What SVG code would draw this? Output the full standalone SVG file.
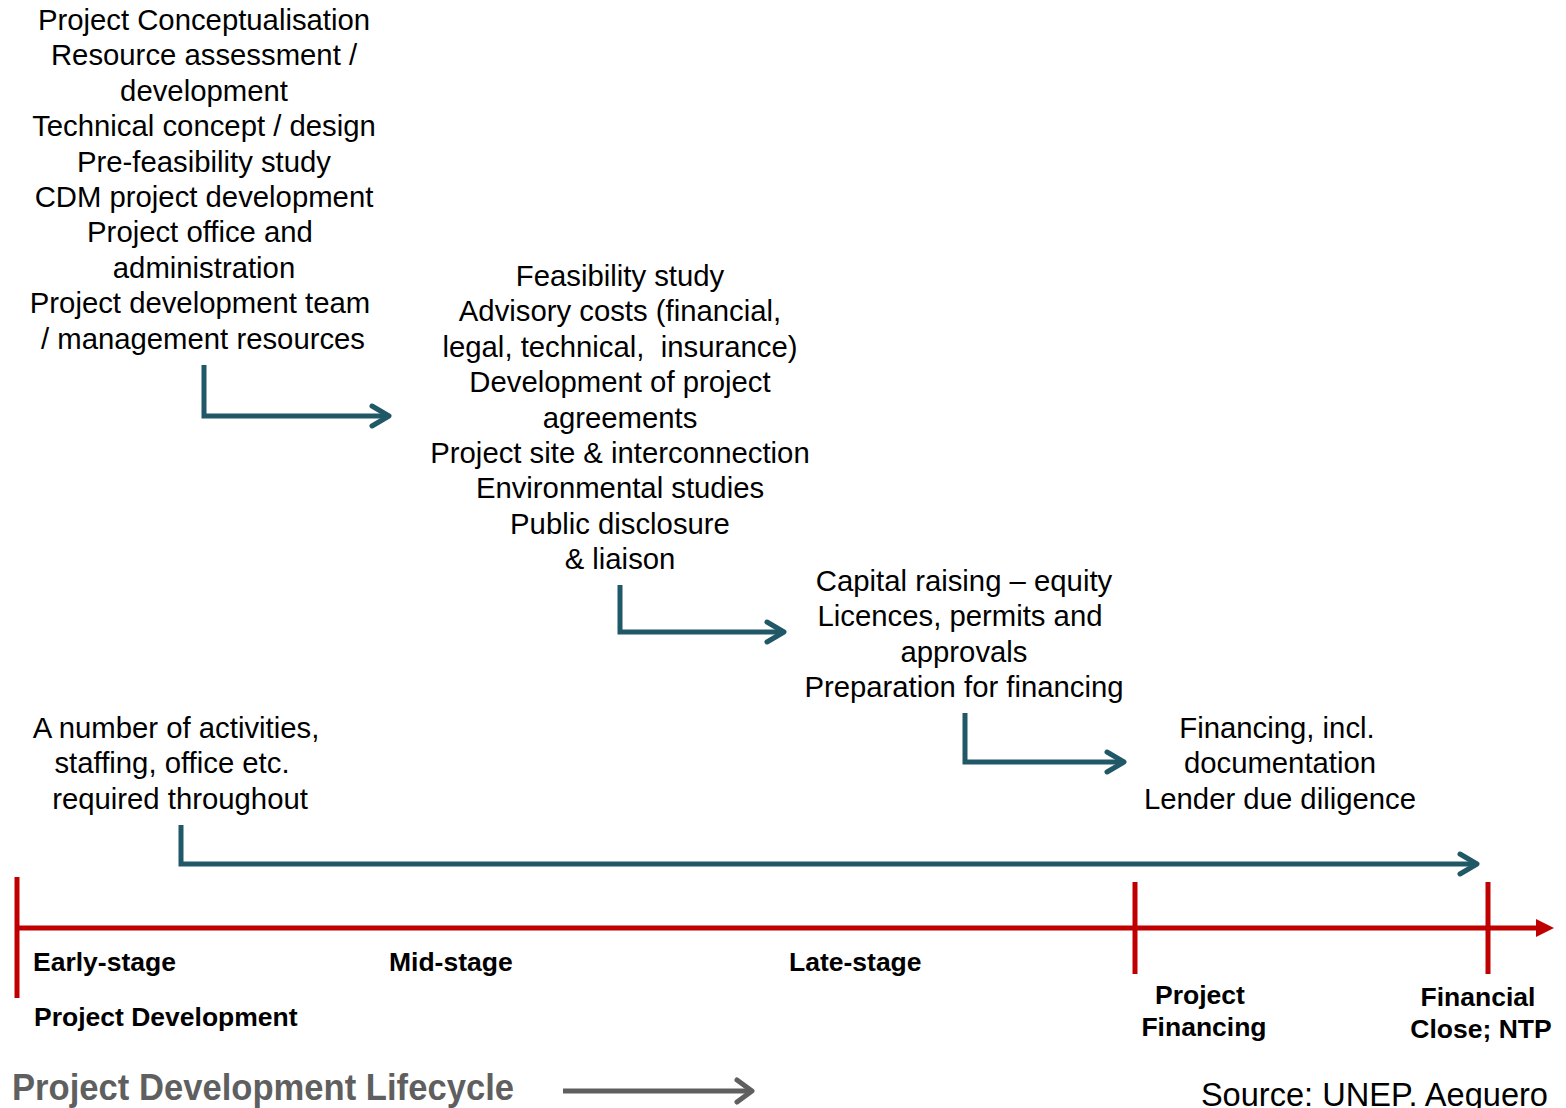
<svg xmlns="http://www.w3.org/2000/svg" width="1566" height="1108" viewBox="0 0 1566 1108">
<style>
.t{font-family:"Liberation Sans",Arial,sans-serif;font-size:29.3px;fill:#000;text-anchor:middle;white-space:pre}
.b{font-family:"Liberation Sans",Arial,sans-serif;font-size:26.5px;font-weight:bold;fill:#000}
.c{text-anchor:middle}
.flow{fill:none;stroke:#215868;stroke-width:5;stroke-linejoin:miter}
.head{fill:none;stroke:#215868;stroke-width:5;stroke-linecap:round;stroke-linejoin:round}
.axis{stroke:#C00000;stroke-width:5;fill:none}
</style>
<rect width="1566" height="1108" fill="#fff"/>
<g id="early">
<text class="t" x="204" y="30">Project Conceptualisation</text>
<text class="t" x="204" y="65.4">Resource assessment /</text>
<text class="t" x="204" y="100.8">development</text>
<text class="t" x="204" y="136.2">Technical concept / design</text>
<text class="t" x="204" y="171.6">Pre-feasibility study</text>
<text class="t" x="204" y="207">CDM project development</text>
<text class="t" x="200" y="242.4">Project office and</text>
<text class="t" x="204" y="277.8">administration</text>
<text class="t" x="200" y="313.2">Project development team</text>
<text class="t" x="203" y="348.6">/ management resources</text>
</g>
<g id="mid">
<text class="t" x="620" y="286">Feasibility study</text>
<text class="t" x="620" y="321.4">Advisory costs (financial,</text>
<text class="t" x="620" y="356.8">legal, technical,  insurance)</text>
<text class="t" x="620" y="392.2">Development of project</text>
<text class="t" x="620" y="427.6">agreements</text>
<text class="t" x="620" y="463">Project site &amp; interconnection</text>
<text class="t" x="620" y="498.4">Environmental studies</text>
<text class="t" x="620" y="533.8">Public disclosure</text>
<text class="t" x="620" y="569.2">&amp; liaison</text>
</g>
<g id="late">
<text class="t" x="964" y="591">Capital raising – equity</text>
<text class="t" x="960" y="626.4">Licences, permits and</text>
<text class="t" x="964" y="661.8">approvals</text>
<text class="t" x="964" y="697.2">Preparation for financing</text>
</g>
<g id="financing">
<text class="t" x="1277" y="738">Financing, incl.</text>
<text class="t" x="1280" y="773.4">documentation</text>
<text class="t" x="1280" y="808.8">Lender due diligence</text>
</g>
<g id="throughout">
<text class="t" x="176" y="738">A number of activities,</text>
<text class="t" x="172" y="773.4">staffing, office etc.</text>
<text class="t" x="180" y="808.8">required throughout</text>
</g>
<g id="connectors">
<path class="flow" d="M204,365 V416 H386"/>
<path class="head" d="M372,406 L389,416 L372,426"/>
<path class="flow" d="M620,585 V632 H781"/>
<path class="head" d="M767,622 L784,632 L767,642"/>
<path class="flow" d="M965,713 V762 H1121"/>
<path class="head" d="M1107,752 L1124,762 L1107,772"/>
<path class="flow" d="M181,825 V864 H1474"/>
<path class="head" d="M1460,854 L1477,864 L1460,874"/>
</g>
<g id="timeline">
<line class="axis" x1="15" y1="928" x2="1538" y2="928"/>
<polygon points="1536,919 1554,928 1536,937" fill="#C00000"/>
<line class="axis" x1="17" y1="877" x2="17" y2="998"/>
<line class="axis" x1="1135" y1="882" x2="1135" y2="974"/>
<line class="axis" x1="1488" y1="882" x2="1488" y2="974"/>
</g>
<g id="labels">
<text class="b" x="33" y="971">Early-stage</text>
<text class="b" x="389" y="971">Mid-stage</text>
<text class="b" x="789" y="971">Late-stage</text>
<text class="b" x="34" y="1026">Project Development</text>
<text class="b c" x="1200" y="1004">Project</text>
<text class="b c" x="1204" y="1036">Financing</text>
<text class="b c" x="1478" y="1006">Financial</text>
<text class="b c" x="1481" y="1038">Close; NTP</text>
</g>
<g id="footer">
<text x="12" y="1100" font-family="'Liberation Sans',Arial,sans-serif" font-size="36" font-weight="bold" fill="#5F5F5F" textLength="502" lengthAdjust="spacingAndGlyphs">Project Development Lifecycle</text>
<line x1="563" y1="1091" x2="750" y2="1091" stroke="#5F5F5F" stroke-width="5"/>
<path d="M737,1080 L752,1091 L737,1102" fill="none" stroke="#5F5F5F" stroke-width="5" stroke-linecap="round" stroke-linejoin="round"/>
<text x="1548" y="1106" font-family="'Liberation Sans',Arial,sans-serif" font-size="32.6" fill="#000" text-anchor="end">Source: UNEP. Aeguero</text>
</g>
</svg>
